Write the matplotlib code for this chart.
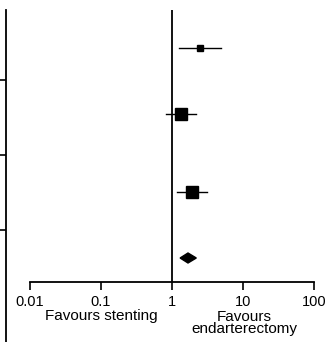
import matplotlib
matplotlib.use("Agg")
import matplotlib.pyplot as plt
from matplotlib.patches import Polygon

plt.rcParams['font.family'] = ['Liberation Sans', 'DejaVu Sans']

# study estimates (odds ratios) with 95% CI
est = [2.48, 1.34, 1.91]
lo = [1.26, 0.82, 1.18]
hi = [4.9, 2.18, 3.1]
marker_size = [5, 9, 9]
# pooled estimate
pooled = 1.68
pooled_lo = 1.3
pooled_hi = 2.2

xticks = [0.01, 0.1, 1, 10, 100]
xtick_labels = ['0.01', '0.1', '1', '10', '100']

# row positions (bottom-up, axes units)
row_y = [234, 168, 90]
pooled_y = 24

W, H = 331, 342
fig = plt.figure(figsize=(W / 100, H / 100), dpi=100)
ax = fig.add_axes([30 / W, 60 / H, 284 / W, 272 / H])

ax.set_xscale('log')
ax.set_xlim(0.01, 100)
ax.set_ylim(0, 272)

for s in ['top', 'right', 'left']:
    ax.spines[s].set_visible(False)
ax.spines['bottom'].set_linewidth(1.3)
ax.set_yticks([])
ax.set_xticks(xticks)
ax.set_xticklabels(xtick_labels)
ax.minorticks_off()
ax.tick_params(axis='x', direction='out', length=6, width=1.2, labelsize=10.5, pad=3)

ax.axvline(1, color='black', lw=1.3)

for e, l, h, y, ms in zip(est, lo, hi, row_y, marker_size):
    ax.plot([l, h], [y, y], color='black', lw=1)
    ax.plot(e, y, marker='s', ms=ms, color='black', mec='black')

d = 5
ax.add_patch(Polygon([(pooled_lo, pooled_y), (pooled, pooled_y + d),
                      (pooled_hi, pooled_y), (pooled, pooled_y - d)],
                     closed=True, color='black'))

ax.text(0.1, -34, 'Favours stenting', ha='center', va='center', fontsize=11)
ax.text(10.5, -41, 'Favours\nendarterectomy', ha='center', va='center',
        fontsize=11, linespacing=0.9)

# left frame line with ticks
ax2 = fig.add_axes([6 / W, 0, 0.01, (H - 10) / H])
for s in ['top', 'right', 'bottom']:
    ax2.spines[s].set_visible(False)
ax2.spines['left'].set_linewidth(1.3)
ax2.set_ylim(H - 10, 0)
ax2.set_xticks([])
ax2.set_yticks([70, 145, 220])
ax2.set_yticklabels([])
ax2.tick_params(axis='y', direction='out', length=6, width=1.2)
ax2.patch.set_alpha(0)

fig.savefig('out.png', dpi=100)
